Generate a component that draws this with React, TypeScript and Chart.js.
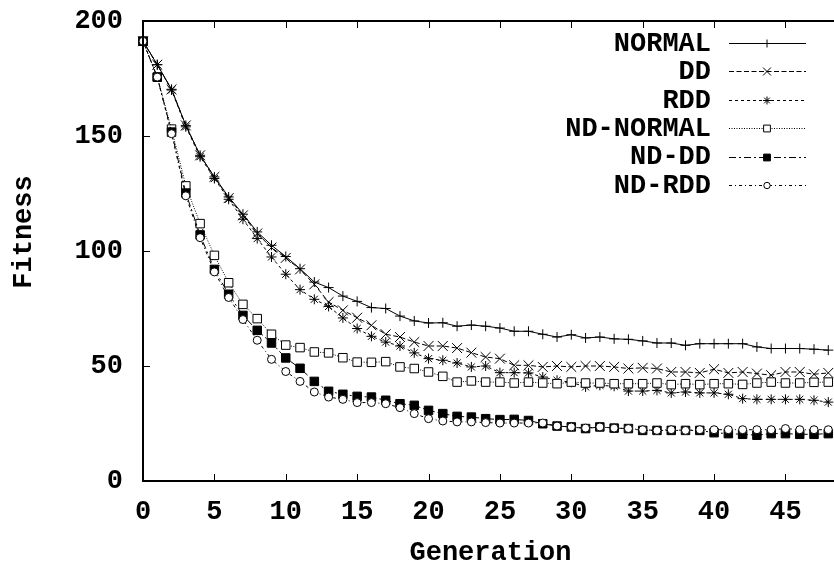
import React, { useEffect, useRef } from "react";
import { Chart, registerables } from "chart.js";
import { drawPoint } from "chart.js/helpers";

Chart.register(...registerables);

const generations = [
  0, 1, 2, 3, 4, 5, 6, 7, 8, 9, 10, 11, 12, 13, 14, 15, 16, 17, 18, 19, 20, 21, 22, 23, 24,
  25, 26, 27, 28, 29, 30, 31, 32, 33, 34, 35, 36, 37, 38, 39, 40, 41, 42, 43, 44, 45, 46, 47, 48,
];

const seriesLabels = ["NORMAL", "DD", "RDD", "ND-NORMAL", "ND-DD", "ND-RDD"];

const normal = [
  191.2, 181, 170.3, 154.6, 141.6, 132.2, 123.5, 116, 108.3, 102.5, 97.6, 92.3, 86.5, 84.1, 80.4,
  78.1, 75.4, 75, 71.7, 69.6, 68.7, 68.8, 67.3, 67.8, 67.3, 66.5, 65.1, 65.1, 63.8, 62.6, 63.6,
  62.2, 62.6, 61.8, 61.6, 60.9, 60, 60, 59, 59.7, 59.7, 59.7, 59.7, 58.3, 57.6, 57.6, 57.6, 57.3, 56.9,
];
const dd = [
  191.2, 181, 170.3, 154.6, 141.6, 132.2, 123, 115.5, 107.6, 101.5, 97, 92, 85.5, 77.8, 74.2, 71,
  67.7, 63.8, 62.6, 60.4, 58.7, 58.7, 57.8, 55.8, 53.9, 53.2, 50.3, 50.3, 49.6, 50, 49.6, 50, 50,
  49.6, 48.9, 49.2, 48.9, 47.4, 47.4, 47, 48.6, 47, 47.4, 46.7, 46, 47.4, 47.4, 46.4, 47,
];
const rdd = [
  191.2, 181, 170, 154, 141, 131.5, 122.5, 113.8, 105.4, 97.4, 89.9, 83.2, 79, 75.9, 70.9, 66.3,
  62.9, 60.4, 58.7, 55.7, 53.2, 52.5, 51.3, 49.6, 50, 47.1, 47.1, 47, 45.2, 43.8, 42.9, 40.9, 41.6,
  41.2, 39.1, 39.1, 39.4, 38.3, 38.7, 38.3, 38.3, 37.7, 35.8, 35.5, 35.5, 35.5, 35.5, 35.1, 34.3,
];
const ndNormal = [
  191.2, 175.6, 153, 128.3, 111.9, 98.1, 86.2, 76.8, 70.6, 63.8, 59.1, 58, 56.1, 55.7, 53.6, 51.7,
  51.6, 51.9, 49.6, 48.9, 47.4, 45.5, 43, 43.5, 43, 43, 42.6, 43, 42.6, 42.3, 43, 42.6, 42.6, 42.3,
  42.3, 42.3, 42.6, 41.9, 42.3, 41.9, 42.3, 42.3, 42, 42.6, 43, 42.6, 42.6, 42.9, 43,
];
const ndDd = [
  191.2, 175.6, 151.7, 125.2, 107, 92, 81.2, 72, 65.5, 60, 53.5, 49, 43.3, 39, 37.7, 36.8, 36.5,
  35.1, 33.6, 32.9, 30.7, 29.3, 28.1, 27.8, 27.1, 26.7, 26.8, 26.3, 24.9, 23.9, 23.5, 22.8, 23.5,
  23, 22.8, 22, 22, 22, 22, 22, 21, 20.6, 20.3, 19.9, 20.6, 20.6, 20.3, 20.3, 20.6,
];
const ndRdd = [
  191.2, 175.6, 151, 124, 105.8, 90.9, 79.8, 70.2, 61.2, 52.9, 47.6, 43.3, 38.7, 36.5, 35.5, 34.1,
  34.1, 33.6, 31.9, 29.3, 27.1, 26.1, 25.7, 25.7, 25.4, 25.2, 25.2, 25.2, 25.2, 23.9, 23.5, 23, 23.5,
  23, 22.8, 22.3, 22, 22.3, 22, 22.3, 22.3, 22.3, 22.3, 22.3, 22.3, 22.8, 22.3, 22.3, 22.3,
];

const xTitle = "Generation";
const yTitle = "Fitness";

const FONT = "'Liberation Mono', 'Courier New', monospace";
const FSIZE = 27;

type Style = {
  dash: number[];
  pointStyle: string;
  radius: number;
  fill: string;
};

const styles: Style[] = [
  { dash: [], pointStyle: "cross", radius: 5, fill: "#000" },
  { dash: [5, 2.5], pointStyle: "crossRot", radius: 7, fill: "#000" },
  { dash: [3, 3], pointStyle: "star", radius: 5, fill: "#000" },
  { dash: [1, 1.5], pointStyle: "rect", radius: 6, fill: "#fff" },
  { dash: [7, 3, 2, 3], pointStyle: "rect", radius: 6, fill: "#000" },
  { dash: [3, 3, 1, 3], pointStyle: "circle", radius: 4, fill: "#fff" },
];

const seriesValues = [normal, dd, rdd, ndNormal, ndDd, ndRdd];

const framePlugin = {
  id: "gnuFrame",
  afterDatasetsDraw(chart: any) {
    const { ctx, chartArea } = chart;
    const xs = chart.scales.x;
    const ys = chart.scales.y;
    const { left, right, top, bottom } = chartArea;
    ctx.save();
    ctx.strokeStyle = "#000";
    ctx.lineWidth = 1;
    ctx.setLineDash([]);
    const tl = 7;
    ctx.beginPath();
    xs.ticks.forEach((t: any) => {
      const px = Math.round(xs.getPixelForValue(t.value)) + 0.5;
      ctx.moveTo(px, bottom);
      ctx.lineTo(px, bottom - tl);
      ctx.moveTo(px, top);
      ctx.lineTo(px, top + tl);
    });
    ys.ticks.forEach((t: any) => {
      const py = Math.round(ys.getPixelForValue(t.value)) + 0.5;
      ctx.moveTo(left, py);
      ctx.lineTo(left + tl, py);
    });
    ctx.stroke();
    ctx.lineWidth = 2;
    ctx.beginPath();
    ctx.moveTo(right, top);
    ctx.lineTo(left, top);
    ctx.lineTo(left, bottom);
    ctx.lineTo(right, bottom);
    ctx.stroke();

    // axis titles
    ctx.fillStyle = "#000";
    ctx.font = `bold ${FSIZE}px ${FONT}`;
    ctx.textAlign = "center";
    ctx.textBaseline = "middle";
    ctx.fillText(xTitle, (left + right) / 2 + 2, 553);
    ctx.save();
    ctx.translate(24, 232);
    ctx.rotate(-Math.PI / 2);
    ctx.fillText(yTitle, 0, 0);
    ctx.restore();

    // legend
    chart.data.datasets.forEach((ds: any, i: number) => {
      const y = 43 + 28.4 * i;
      ctx.fillStyle = "#000";
      ctx.textAlign = "right";
      ctx.fillText(ds.label, 711, y + 1);
      ctx.strokeStyle = "#000";
      ctx.lineWidth = 1;
      ctx.setLineDash(ds.borderDash || []);
      ctx.beginPath();
      ctx.moveTo(729, Math.round(y) + 0.5);
      ctx.lineTo(806, Math.round(y) + 0.5);
      ctx.stroke();
      ctx.setLineDash([]);
      ctx.fillStyle = ds.pointBackgroundColor;
      drawPoint(ctx, { pointStyle: ds.pointStyle, radius: ds.pointRadius * 0.8, borderWidth: 1, rotation: 0 } as any, 767, Math.round(y) + 0.5);
    });
    ctx.restore();
  },
};

export default function App() {
  const ref = useRef<HTMLCanvasElement | null>(null);
  useEffect(() => {
    document.body.style.margin = "0";
    if (!ref.current) return;
    const datasets = seriesLabels.map((label, i) => ({
      label,
      data: generations.map((g, j) => ({ x: g, y: seriesValues[i][j] })),
      borderColor: "#000",
      borderWidth: 1,
      borderDash: styles[i].dash,
      pointStyle: styles[i].pointStyle,
      pointRadius: styles[i].radius,
      pointBorderWidth: 1,
      pointBorderColor: "#000",
      pointBackgroundColor: styles[i].fill,
      tension: 0,
      fill: false,
      clip: false as any,
      order: seriesLabels.length - i,
    }));
    const chart = new Chart(ref.current, {
      type: "line",
      data: { datasets },
      options: {
        responsive: false,
        animation: false,
        layout: { autoPadding: false, padding: { top: 21, left: 0, right: 0, bottom: 0 } },
        plugins: { legend: { display: false }, tooltip: { enabled: false } },
        scales: {
          x: {
            type: "linear",
            min: 0,
            max: 48.4,
            grid: { display: false },
            border: { display: false },
            ticks: {
              stepSize: 5,
              includeBounds: false,
              color: "#000",
              font: { family: FONT, size: FSIZE, weight: "bold" },
              padding: 7,
              maxRotation: 0,
            },
            afterFit: (s: any) => {
              s.height = 85;
              s.paddingLeft = 0;
              s.paddingRight = 0;
              s.paddingTop = 0;
              s.paddingBottom = 0;
            },
          },
          y: {
            min: 0,
            max: 200,
            grid: { display: false },
            border: { display: false },
            ticks: {
              stepSize: 50,
              color: "#000",
              font: { family: FONT, size: FSIZE, weight: "bold" },
              padding: 12,
            },
            afterFit: (s: any) => {
              s.width = 143;
              s.paddingLeft = 0;
              s.paddingRight = 0;
              s.paddingTop = 0;
              s.paddingBottom = 0;
            },
          },
        },
      },
      plugins: [framePlugin],
    });
    return () => chart.destroy();
  }, []);
  return <canvas ref={ref} width={834} height={566} style={{ display: "block" }} />;
}
